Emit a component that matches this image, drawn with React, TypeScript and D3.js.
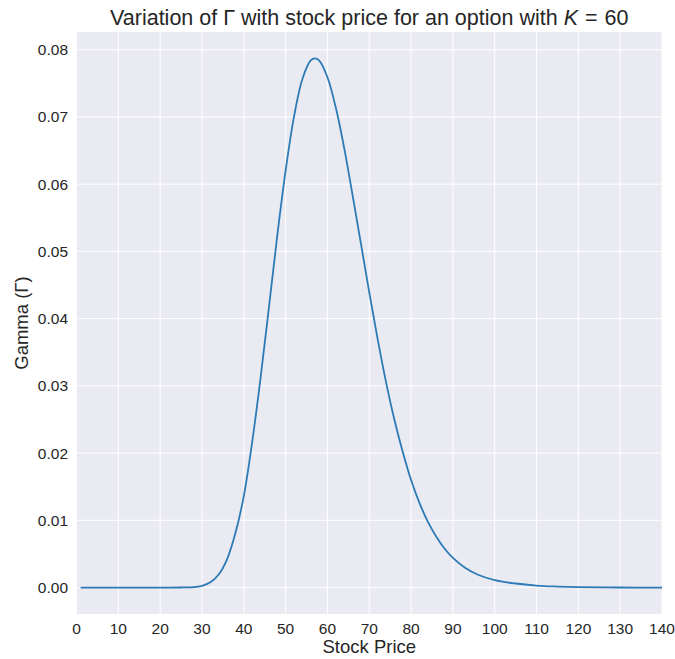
import React from "react";
import * as d3 from "d3";

// Stock price (x) and gamma (y)
const stockPrice = [1, 10, 20, 25, 28, 30, 32, 34, 36, 38, 40, 42, 44, 46, 48, 50, 52, 54, 56, 57, 58, 60, 62, 64, 66, 68, 70, 72, 74, 76, 78, 80, 82, 84, 86, 88, 90, 93, 96, 100, 105, 110, 115, 120, 130, 140];
const gamma = [0, 0, 0, 0.00001, 0.00007, 0.00026, 0.00078, 0.00195, 0.0042, 0.0081, 0.0136, 0.0216, 0.0311, 0.0416, 0.0523, 0.062, 0.07, 0.0756, 0.0784, 0.0787, 0.0784, 0.0759, 0.0714, 0.0654, 0.0584, 0.0512, 0.0439, 0.037, 0.0306, 0.025, 0.0202, 0.016, 0.0126, 0.0098, 0.0076, 0.0058, 0.0044, 0.0029, 0.0019, 0.0011, 0.0006, 0.0003, 0.00015, 0.00006, 0.00001, 0];

const xTicks = d3.range(0, 141, 10);
const yTicks = [0, 0.01, 0.02, 0.03, 0.04, 0.05, 0.06, 0.07, 0.08];

const W = 675;
const H = 659;
const M = { left: 76.5, right: 662, top: 32, bottom: 614 };
const FONT = "'Liberation Sans', Arial, Helvetica, sans-serif";

export default function App() {
  const gMax = d3.max(gamma) as number;
  const x = d3.scaleLinear().domain([0, 140]).range([M.left, M.right]);
  const y = d3
    .scaleLinear()
    .domain([-0.05 * gMax, 1.05 * gMax])
    .range([M.bottom, M.top]);

  const pts: [number, number][] = stockPrice.map((s, i) => [s, gamma[i]]);
  const line = d3
    .line<[number, number]>()
    .x((d) => x(d[0]))
    .y((d) => y(d[1]))
    .curve(d3.curveCatmullRom.alpha(0.5));

  const cx = (M.left + M.right) / 2;
  const cy = (M.top + M.bottom) / 2;

  return (
    <div style={{ position: "absolute", left: 0, top: 0 }}>
      <svg width={W} height={H} style={{ display: "block", background: "#fff" }} fontFamily={FONT}>
        <rect x={M.left} y={M.top} width={M.right - M.left} height={M.bottom - M.top} fill="#EAEAF2" />
        {xTicks.map((t) => (
          <line key={"gx" + t} x1={x(t)} x2={x(t)} y1={M.top} y2={M.bottom} stroke="#fff" strokeWidth={1} />
        ))}
        {yTicks.map((t) => (
          <line key={"gy" + t} x1={M.left} x2={M.right} y1={y(t)} y2={y(t)} stroke="#fff" strokeWidth={1} />
        ))}
        <path d={line(pts) || ""} fill="none" stroke="#2c7bb6" strokeWidth={1.8} />
        {xTicks.map((t) => (
          <text key={"tx" + t} x={x(t)} y={M.bottom + 19.5} textAnchor="middle" fontSize={15.5} fill="#262626">
            {t}
          </text>
        ))}
        {yTicks.map((t) => (
          <text key={"ty" + t} x={M.left - 8.5} y={y(t)} dy="0.35em" textAnchor="end" fontSize={15.5} fill="#262626">
            {t.toFixed(2)}
          </text>
        ))}
        <text x={cx} y={653} textAnchor="middle" fontSize={18.5} fill="#262626">
          Stock Price
        </text>
        <text
          transform={`translate(${28},${cy}) rotate(-90)`}
          textAnchor="middle"
          fontSize={18.5}
          fill="#262626"
        >
          Gamma (Γ)
        </text>
        <text x={cx} y={25} textAnchor="middle" fontSize={21.5} fill="#262626">
          Variation of Γ with stock price for an option with <tspan fontStyle="italic">K</tspan>
          <tspan dx={7}>=</tspan>
          <tspan dx={7}>60</tspan>
        </text>
      </svg>
    </div>
  );
}
